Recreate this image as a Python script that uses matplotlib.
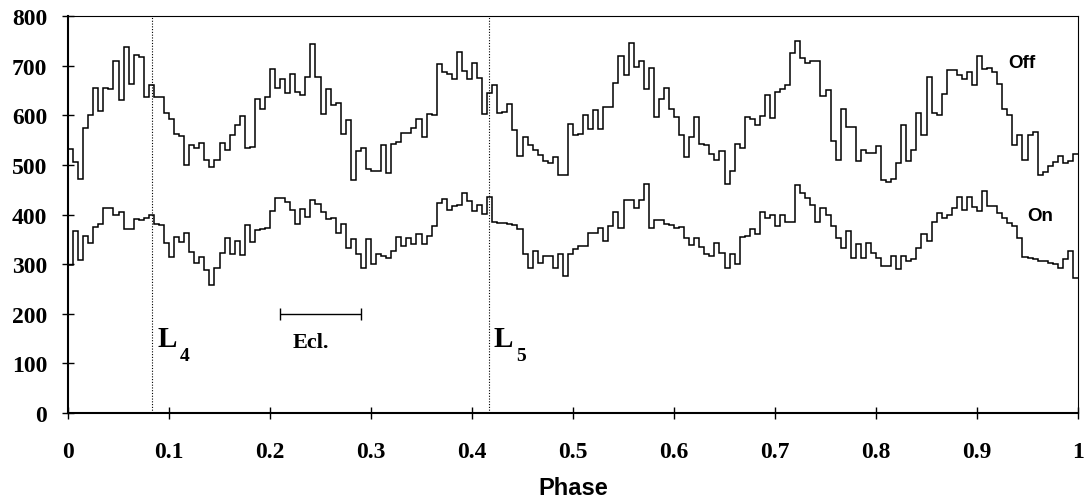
import numpy as np
import matplotlib
matplotlib.use("Agg")
import matplotlib.pyplot as plt

# 200 phase bins, counts
off_counts = [
    532, 505, 472, 575, 600, 655, 608, 655, 652, 710,
    630, 737, 662, 722, 718, 637, 660, 637, 636, 605,
    592, 562, 558, 500, 540, 533, 545, 510, 495, 510,
    545, 530, 560, 580, 598, 533, 537, 633, 613, 637,
    693, 654, 674, 645, 683, 647, 641, 677, 743, 677,
    602, 652, 621, 624, 562, 590, 470, 528, 535, 492,
    488, 487, 540, 483, 543, 547, 565, 565, 575, 592,
    557, 603, 601, 703, 687, 684, 673, 727, 690, 673,
    706, 675, 602, 644, 661, 605, 607, 622, 570, 518,
    557, 540, 530, 520, 507, 503, 516, 480, 480, 583,
    560, 563, 601, 573, 611, 572, 616, 616, 664, 720,
    682, 746, 698, 709, 653, 696, 597, 633, 654, 613,
    596, 560, 516, 556, 596, 543, 540, 521, 510, 528,
    461, 487, 543, 533, 597, 592, 580, 599, 640, 595,
    647, 652, 661, 725, 750, 715, 705, 710, 710, 639,
    650, 548, 510, 612, 577, 577, 507, 530, 523, 523,
    539, 470, 465, 472, 503, 581, 507, 530, 605, 560,
    677, 605, 600, 643, 692, 692, 681, 673, 688, 661,
    720, 693, 695, 687, 663, 613, 601, 541, 561, 510,
    561, 567, 480, 485, 497, 505, 517, 503, 508, 522,
]
on_counts = [
    298, 367, 308, 357, 343, 375, 380, 413, 413, 400,
    405, 370, 370, 390, 388, 393, 398, 380, 378, 342,
    315, 355, 345, 363, 325, 303, 315, 288, 258, 293,
    322, 352, 321, 346, 318, 378, 345, 369, 371, 373,
    407, 433, 433, 425, 410, 380, 412, 395, 430, 422,
    405, 390, 392, 362, 380, 332, 350, 320, 293, 350,
    300, 320, 317, 313, 327, 355, 337, 353, 340, 361,
    340, 357, 377, 423, 432, 410, 418, 420, 443, 428,
    407, 420, 401, 435, 385, 383, 383, 380, 378, 370,
    320, 293, 327, 303, 317, 317, 293, 320, 277, 320,
    330, 337, 337, 363, 363, 373, 347, 377, 405, 373,
    430, 430, 413, 430, 462, 373, 388, 388, 381, 379,
    373, 374, 353, 339, 353, 335, 320, 317, 343, 323,
    292, 321, 300, 355, 357, 370, 360, 405, 393, 400,
    377, 398, 385, 385, 460, 443, 433, 419, 385, 413,
    400, 377, 353, 332, 367, 313, 340, 313, 343, 323,
    313, 297, 297, 317, 290, 317, 307, 310, 333, 361,
    347, 385, 403, 392, 398, 413, 435, 410, 435, 415,
    408, 448, 417, 417, 403, 392, 383, 377, 353, 315,
    313, 310, 307, 307, 303, 300, 293, 310, 327, 272,
]

lagrange_phase = [0.0833, 0.4167]
lagrange_sub = ["4", "5"]
ecl_range = [0.21, 0.29]
ecl_level = 200

x_ticks = [0, 0.1, 0.2, 0.3, 0.4, 0.5, 0.6, 0.7, 0.8, 0.9, 1]
x_labels = ["0", "0.1", "0.2", "0.3", "0.4", "0.5", "0.6", "0.7", "0.8", "0.9", "1"]
y_ticks = [0, 100, 200, 300, 400, 500, 600, 700, 800]

serif = "Liberation Serif"
sans = "Liberation Sans"

edges = np.linspace(0, 1, len(off_counts) + 1)

W, H = 1085, 502
ax_left, ax_right, ax_top, ax_bottom = 68, 1078, 17, 414

fig = plt.figure(figsize=(W / 100, H / 100), dpi=100)
ax = fig.add_axes([ax_left / W, 1 - ax_bottom / H,
                   (ax_right - ax_left) / W, (ax_bottom - ax_top) / H])

ax.stairs(off_counts, edges, baseline=None, color="black", lw=1.1)
ax.stairs(on_counts, edges, baseline=None, color="black", lw=1.1)

# L4 / L5 markers
for p, s in zip(lagrange_phase, lagrange_sub):
    ax.axvline(p, color="black", lw=0.8, ls=(0, (1, 1.5)))
    ax.text(p + 0.005, 135, "L", fontsize=21, fontweight="bold", family=serif)
    ax.text(p + 0.027, 107, s, fontsize=14, fontweight="bold", family=serif)

# eclipse interval
ecl_mid = (ecl_range[0] + ecl_range[1]) / 2
ax.errorbar([ecl_mid], [ecl_level], xerr=[(ecl_range[1] - ecl_range[0]) / 2],
            fmt="none", ecolor="black", elinewidth=1.0, capsize=4, capthick=1.0)
ax.text(0.222, 133, "Ecl.", fontsize=16, fontweight="bold", family=serif)

ax.text(0.944, 706, "Off", fontsize=13.5, fontweight="bold", family=sans,
        ha="center", va="center")
ax.text(0.963, 398, "On", fontsize=13.5, fontweight="bold", family=sans,
        ha="center", va="center")

ax.set_xlim(0, 1)
ax.set_ylim(0, 800)
ax.set_xticks(x_ticks)
ax.set_xticklabels(x_labels)
ax.set_yticks(y_ticks)
for lab in ax.get_xticklabels() + ax.get_yticklabels():
    lab.set_fontfamily(serif)
    lab.set_fontweight("bold")
    lab.set_fontsize(17)
ax.tick_params(direction="inout", length=8, width=1)
ax.tick_params(axis="x", pad=16)
ax.tick_params(axis="y", pad=11)
ax.spines["left"].set_linewidth(1.5)
ax.spines["bottom"].set_linewidth(1.5)
ax.spines["top"].set_linewidth(0.8)
ax.spines["right"].set_linewidth(0.8)

ax.set_xlabel("Phase", fontsize=17, fontweight="bold", family=sans)
ax.xaxis.set_label_coords(0.5, -(489 - ax_bottom) / (ax_bottom - ax_top))
ax.xaxis.label.set_va("center")

fig.savefig("out.png", dpi=100)
